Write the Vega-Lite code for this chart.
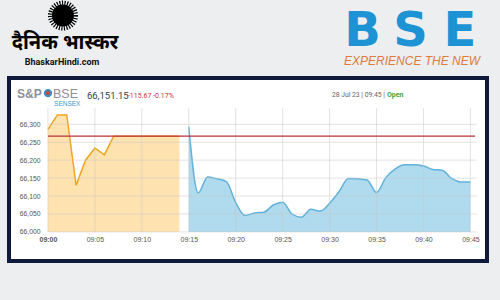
{
  "$schema": "https://vega.github.io/schema/vega-lite/v6.json",
  "autosize": {"type": "none"},
  "width": 478,
  "height": 183,
  "padding": {"left": 9, "top": 78, "right": 13, "bottom": 39},
  "background": "#eceef0",
  "config": {
    "view": {"fill": "#ffffff", "stroke": "#101a3d", "strokeWidth": 4},
    "font": "Liberation Sans",
    "axisY": {"labelOverlap": false, "labelSeparation": 0, "labelBound": false}
  },
  "datasets": {
    "prices": [
      {"time": "2023-07-28T09:00:00", "value": 66286, "phase": "pre"},
      {"time": "2023-07-28T09:01:00", "value": 66326, "phase": "pre"},
      {"time": "2023-07-28T09:02:00", "value": 66326, "phase": "pre"},
      {"time": "2023-07-28T09:03:00", "value": 66130, "phase": "pre"},
      {"time": "2023-07-28T09:04:00", "value": 66200, "phase": "pre"},
      {"time": "2023-07-28T09:05:00", "value": 66234, "phase": "pre"},
      {"time": "2023-07-28T09:06:00", "value": 66215, "phase": "pre"},
      {"time": "2023-07-28T09:07:00", "value": 66266.82, "phase": "pre"},
      {"time": "2023-07-28T09:08:00", "value": 66266.82, "phase": "pre"},
      {"time": "2023-07-28T09:09:00", "value": 66266.82, "phase": "pre"},
      {"time": "2023-07-28T09:10:00", "value": 66266.82, "phase": "pre"},
      {"time": "2023-07-28T09:11:00", "value": 66266.82, "phase": "pre"},
      {"time": "2023-07-28T09:12:00", "value": 66266.82, "phase": "pre"},
      {"time": "2023-07-28T09:13:00", "value": 66266.82, "phase": "pre"},
      {"time": "2023-07-28T09:14:00", "value": 66266.82, "phase": "pre"},
      {"time": "2023-07-28T09:15:00", "value": 66293, "phase": "sess"},
      {"time": "2023-07-28T09:16:00", "value": 66109, "phase": "sess"},
      {"time": "2023-07-28T09:17:00", "value": 66153, "phase": "sess"},
      {"time": "2023-07-28T09:18:00", "value": 66148, "phase": "sess"},
      {"time": "2023-07-28T09:19:00", "value": 66140, "phase": "sess"},
      {"time": "2023-07-28T09:20:00", "value": 66082, "phase": "sess"},
      {"time": "2023-07-28T09:21:00", "value": 66046, "phase": "sess"},
      {"time": "2023-07-28T09:22:00", "value": 66053, "phase": "sess"},
      {"time": "2023-07-28T09:23:00", "value": 66055, "phase": "sess"},
      {"time": "2023-07-28T09:24:00", "value": 66075, "phase": "sess"},
      {"time": "2023-07-28T09:25:00", "value": 66083, "phase": "sess"},
      {"time": "2023-07-28T09:26:00", "value": 66050, "phase": "sess"},
      {"time": "2023-07-28T09:27:00", "value": 66041, "phase": "sess"},
      {"time": "2023-07-28T09:28:00", "value": 66063, "phase": "sess"},
      {"time": "2023-07-28T09:29:00", "value": 66058, "phase": "sess"},
      {"time": "2023-07-28T09:30:00", "value": 66080, "phase": "sess"},
      {"time": "2023-07-28T09:31:00", "value": 66112, "phase": "sess"},
      {"time": "2023-07-28T09:32:00", "value": 66149, "phase": "sess"},
      {"time": "2023-07-28T09:33:00", "value": 66148, "phase": "sess"},
      {"time": "2023-07-28T09:34:00", "value": 66145, "phase": "sess"},
      {"time": "2023-07-28T09:35:00", "value": 66110, "phase": "sess"},
      {"time": "2023-07-28T09:36:00", "value": 66152, "phase": "sess"},
      {"time": "2023-07-28T09:37:00", "value": 66176, "phase": "sess"},
      {"time": "2023-07-28T09:38:00", "value": 66187, "phase": "sess"},
      {"time": "2023-07-28T09:39:00", "value": 66187, "phase": "sess"},
      {"time": "2023-07-28T09:40:00", "value": 66184, "phase": "sess"},
      {"time": "2023-07-28T09:41:00", "value": 66174, "phase": "sess"},
      {"time": "2023-07-28T09:42:00", "value": 66172, "phase": "sess"},
      {"time": "2023-07-28T09:43:00", "value": 66149, "phase": "sess"},
      {"time": "2023-07-28T09:44:00", "value": 66139, "phase": "sess"},
      {"time": "2023-07-28T09:45:00", "value": 66139, "phase": "sess"}
    ],
    "hgrid": [{"level": 66000}, {"level": 66050}, {"level": 66100}, {"level": 66150}, {"level": 66200}, {"level": 66250}, {"level": 66300}],
    "vgrid": [
      {"tick": "2023-07-28T09:00:00"}, {"tick": "2023-07-28T09:05:00"}, {"tick": "2023-07-28T09:10:00"},
      {"tick": "2023-07-28T09:15:00"}, {"tick": "2023-07-28T09:20:00"}, {"tick": "2023-07-28T09:25:00"},
      {"tick": "2023-07-28T09:30:00"}, {"tick": "2023-07-28T09:35:00"}, {"tick": "2023-07-28T09:40:00"},
      {"tick": "2023-07-28T09:45:00"}
    ],
    "close": [{"prevClose": 66266.82}],
    "one": [{}]
  },
  "layer": [
    {
      "data": {"name": "prices"},
      "transform": [{"filter": "datum.phase === 'pre'"}],
      "mark": {"type": "area", "color": "#fdd68f", "line": {"color": "#f2a41f", "strokeWidth": 1.5}},
      "encoding": {
        "x": {"field": "time", "type": "temporal", "title": null,
          "scale": {"domain": [{"year": 2023, "month": 7, "date": 28, "hours": 8, "minutes": 55, "seconds": 51}, {"year": 2023, "month": 7, "date": 28, "hours": 9, "minutes": 46, "seconds": 46}]},
          "axis": {"orient": "bottom", "offset": -29.1, "domain": false, "ticks": false, "grid": false, "labelPadding": 4, "labelFontSize": 7, "labelColor": "#555555",
            "labelFontWeight": {"condition": {"test": "hours(datum.value) === 9 && minutes(datum.value) === 0", "value": "bold"}, "value": "normal"},
            "format": "%H:%M", "labelOverlap": false, "labelFlush": false,
            "values": [
              {"year": 2023, "month": 7, "date": 28, "hours": 9, "minutes": 0},
              {"year": 2023, "month": 7, "date": 28, "hours": 9, "minutes": 5},
              {"year": 2023, "month": 7, "date": 28, "hours": 9, "minutes": 10},
              {"year": 2023, "month": 7, "date": 28, "hours": 9, "minutes": 15},
              {"year": 2023, "month": 7, "date": 28, "hours": 9, "minutes": 20},
              {"year": 2023, "month": 7, "date": 28, "hours": 9, "minutes": 25},
              {"year": 2023, "month": 7, "date": 28, "hours": 9, "minutes": 30},
              {"year": 2023, "month": 7, "date": 28, "hours": 9, "minutes": 35},
              {"year": 2023, "month": 7, "date": 28, "hours": 9, "minutes": 40},
              {"year": 2023, "month": 7, "date": 28, "hours": 9, "minutes": 45}
            ]}},
        "y": {"field": "value", "type": "quantitative", "title": null,
          "scale": {"domain": [65919, 66429], "nice": false, "zero": false},
          "axis": {"orient": "left", "offset": -39, "domain": false, "ticks": false, "grid": false, "labelPadding": 8, "labelFontSize": 6.8, "labelColor": "#555555",
            "format": ",.0f", "labelOverlap": false, "tickCount": 7,
            "values": [66000, 66050, 66100, 66150, 66200, 66250, 66300]}},
        "y2": {"datum": 66000}
      }
    },
    {
      "data": {"name": "prices"},
      "transform": [{"filter": "datum.phase === 'sess'"}],
      "mark": {"type": "area", "interpolate": "monotone", "color": "#8fcae5", "line": {"color": "#5fb2dc", "strokeWidth": 1.5}},
      "encoding": {
        "x": {"field": "time", "type": "temporal", "title": null,
          "scale": {"domain": [{"year": 2023, "month": 7, "date": 28, "hours": 8, "minutes": 55, "seconds": 51}, {"year": 2023, "month": 7, "date": 28, "hours": 9, "minutes": 46, "seconds": 46}]}},
        "y": {"field": "value", "type": "quantitative", "title": null,
          "scale": {"domain": [65919, 66429], "nice": false, "zero": false}},
        "y2": {"datum": 66000}
      }
    },
    {
      "data": {"name": "hgrid"},
      "mark": {"type": "rule", "color": "#c8c8c8", "strokeWidth": 1, "opacity": 0.5},
      "encoding": {
        "y": {"field": "level", "type": "quantitative", "title": null,
          "scale": {"domain": [65919, 66429], "nice": false, "zero": false},
          "axis": {"orient": "left", "offset": -39, "domain": false, "ticks": false, "grid": false, "labelPadding": 8, "labelFontSize": 6.8, "labelColor": "#555555",
            "format": ",.0f", "labelOverlap": false, "tickCount": 7,
            "values": [66000, 66050, 66100, 66150, 66200, 66250, 66300]}},
        "x": {"datum": {"year": 2023, "month": 7, "date": 28, "hours": 9, "minutes": 0}, "type": "temporal",
          "scale": {"domain": [{"year": 2023, "month": 7, "date": 28, "hours": 8, "minutes": 55, "seconds": 51}, {"year": 2023, "month": 7, "date": 28, "hours": 9, "minutes": 46, "seconds": 46}]}},
        "x2": {"datum": {"year": 2023, "month": 7, "date": 28, "hours": 9, "minutes": 45, "seconds": 40}}
      }
    },
    {
      "data": {"name": "vgrid"},
      "mark": {"type": "rule", "color": "#c8c8c8", "strokeWidth": 1, "opacity": 0.5},
      "encoding": {
        "x": {"field": "tick", "type": "temporal", "title": null,
          "scale": {"domain": [{"year": 2023, "month": 7, "date": 28, "hours": 8, "minutes": 55, "seconds": 51}, {"year": 2023, "month": 7, "date": 28, "hours": 9, "minutes": 46, "seconds": 46}]}},
        "y": {"datum": 66000, "type": "quantitative",
          "scale": {"domain": [65919, 66429], "nice": false, "zero": false}},
        "y2": {"datum": 66345}
      }
    },
    {
      "data": {"name": "close"},
      "mark": {"type": "rule", "color": "#b8333a", "strokeWidth": 1.2},
      "encoding": {
        "y": {"field": "prevClose", "type": "quantitative", "title": null,
          "scale": {"domain": [65919, 66429], "nice": false, "zero": false}},
        "x": {"datum": {"year": 2023, "month": 7, "date": 28, "hours": 9, "minutes": 0}, "type": "temporal",
          "scale": {"domain": [{"year": 2023, "month": 7, "date": 28, "hours": 8, "minutes": 55, "seconds": 51}, {"year": 2023, "month": 7, "date": 28, "hours": 9, "minutes": 46, "seconds": 46}]}},
        "x2": {"datum": {"year": 2023, "month": 7, "date": 28, "hours": 9, "minutes": 45, "seconds": 30}}
      }
    },
    {
      "data": {"name": "one"},
      "mark": {"type": "point", "shape": "circle", "filled": true, "fill": "#000000", "stroke": "#000000", "strokeWidth": 8, "strokeDash": [1, 1.2], "size": 484, "opacity": 1},
      "encoding": {
        "x": {"datum": {"year": 2023, "month": 7, "date": 28, "hours": 9, "minutes": 1, "seconds": 36}, "type": "temporal",
          "scale": {"domain": [{"year": 2023, "month": 7, "date": 28, "hours": 8, "minutes": 55, "seconds": 51}, {"year": 2023, "month": 7, "date": 28, "hours": 9, "minutes": 46, "seconds": 46}]}},
        "y": {"datum": 66603, "type": "quantitative", "scale": {"domain": [65919, 66429], "nice": false, "zero": false}}
      }
    },
    {
      "data": {"name": "one"},
      "mark": {"type": "text", "text": "दैनिक भास्कर", "font": "Noto Sans", "fontSize": 20, "fontWeight": "bold", "color": "#000000", "align": "center", "baseline": "middle"},
      "encoding": {
        "x": {"datum": {"year": 2023, "month": 7, "date": 28, "hours": 9, "minutes": 1, "seconds": 49}, "type": "temporal",
          "scale": {"domain": [{"year": 2023, "month": 7, "date": 28, "hours": 8, "minutes": 55, "seconds": 51}, {"year": 2023, "month": 7, "date": 28, "hours": 9, "minutes": 46, "seconds": 46}]}},
        "y": {"datum": 66526, "type": "quantitative", "scale": {"domain": [65919, 66429], "nice": false, "zero": false}}
      }
    },
    {
      "data": {"name": "one"},
      "mark": {"type": "text", "text": "BhaskarHindi.com", "font": "Roboto", "fontSize": 9, "fontWeight": "bold", "color": "#111111", "align": "center", "baseline": "alphabetic"},
      "encoding": {
        "x": {"datum": {"year": 2023, "month": 7, "date": 28, "hours": 9, "minutes": 1, "seconds": 30}, "type": "temporal",
          "scale": {"domain": [{"year": 2023, "month": 7, "date": 28, "hours": 8, "minutes": 55, "seconds": 51}, {"year": 2023, "month": 7, "date": 28, "hours": 9, "minutes": 46, "seconds": 46}]}},
        "y": {"datum": 66465, "type": "quantitative", "scale": {"domain": [65919, 66429], "nice": false, "zero": false}}
      }
    },
    {
      "data": {"name": "one"},
      "mark": {"type": "text", "text": "B", "font": "DejaVu Sans", "fontSize": 48, "fontWeight": "bold", "color": "#1d93d4", "align": "center", "baseline": "alphabetic"},
      "encoding": {
        "x": {"datum": {"year": 2023, "month": 7, "date": 28, "hours": 9, "minutes": 33, "seconds": 30}, "type": "temporal",
          "scale": {"domain": [{"year": 2023, "month": 7, "date": 28, "hours": 8, "minutes": 55, "seconds": 51}, {"year": 2023, "month": 7, "date": 28, "hours": 9, "minutes": 46, "seconds": 46}]}},
        "y": {"datum": 66518, "type": "quantitative", "scale": {"domain": [65919, 66429], "nice": false, "zero": false}}
      }
    },
    {
      "data": {"name": "one"},
      "mark": {"type": "text", "text": "S", "font": "DejaVu Sans", "fontSize": 48, "fontWeight": "bold", "color": "#1d93d4", "align": "center", "baseline": "alphabetic"},
      "encoding": {
        "x": {"datum": {"year": 2023, "month": 7, "date": 28, "hours": 9, "minutes": 38, "seconds": 37}, "type": "temporal",
          "scale": {"domain": [{"year": 2023, "month": 7, "date": 28, "hours": 8, "minutes": 55, "seconds": 51}, {"year": 2023, "month": 7, "date": 28, "hours": 9, "minutes": 46, "seconds": 46}]}},
        "y": {"datum": 66518, "type": "quantitative", "scale": {"domain": [65919, 66429], "nice": false, "zero": false}}
      }
    },
    {
      "data": {"name": "one"},
      "mark": {"type": "text", "text": "E", "font": "DejaVu Sans", "fontSize": 48, "fontWeight": "bold", "color": "#1d93d4", "align": "center", "baseline": "alphabetic"},
      "encoding": {
        "x": {"datum": {"year": 2023, "month": 7, "date": 28, "hours": 9, "minutes": 43, "seconds": 53}, "type": "temporal",
          "scale": {"domain": [{"year": 2023, "month": 7, "date": 28, "hours": 8, "minutes": 55, "seconds": 51}, {"year": 2023, "month": 7, "date": 28, "hours": 9, "minutes": 46, "seconds": 46}]}},
        "y": {"datum": 66518, "type": "quantitative", "scale": {"domain": [65919, 66429], "nice": false, "zero": false}}
      }
    },
    {
      "data": {"name": "one"},
      "mark": {"type": "text", "text": "EXPERIENCE THE NEW", "font": "Liberation Sans", "fontSize": 12, "fontStyle": "italic", "color": "#e07a3a", "align": "center", "baseline": "alphabetic"},
      "encoding": {
        "x": {"datum": {"year": 2023, "month": 7, "date": 28, "hours": 9, "minutes": 38, "seconds": 47}, "type": "temporal",
          "scale": {"domain": [{"year": 2023, "month": 7, "date": 28, "hours": 8, "minutes": 55, "seconds": 51}, {"year": 2023, "month": 7, "date": 28, "hours": 9, "minutes": 46, "seconds": 46}]}},
        "y": {"datum": 66465, "type": "quantitative", "scale": {"domain": [65919, 66429], "nice": false, "zero": false}}
      }
    },
    {
      "data": {"name": "one"},
      "mark": {"type": "text", "text": "S&P", "font": "Liberation Sans", "fontSize": 12, "fontWeight": "bold", "color": "#8a9099", "align": "left", "baseline": "alphabetic"},
      "encoding": {
        "x": {"datum": {"year": 2023, "month": 7, "date": 28, "hours": 8, "minutes": 56, "seconds": 42}, "type": "temporal",
          "scale": {"domain": [{"year": 2023, "month": 7, "date": 28, "hours": 8, "minutes": 55, "seconds": 51}, {"year": 2023, "month": 7, "date": 28, "hours": 9, "minutes": 46, "seconds": 46}]}},
        "y": {"datum": 66374.6, "type": "quantitative", "scale": {"domain": [65919, 66429], "nice": false, "zero": false}}
      }
    },
    {
      "data": {"name": "one"},
      "mark": {"type": "point", "shape": "circle", "filled": true, "fill": "#d2453d", "stroke": "#3b8fc8", "strokeWidth": 2, "size": 40, "opacity": 1},
      "encoding": {
        "x": {"datum": {"year": 2023, "month": 7, "date": 28, "hours": 9, "minutes": 0, "seconds": 0}, "type": "temporal",
          "scale": {"domain": [{"year": 2023, "month": 7, "date": 28, "hours": 8, "minutes": 55, "seconds": 51}, {"year": 2023, "month": 7, "date": 28, "hours": 9, "minutes": 46, "seconds": 46}]}},
        "y": {"datum": 66387, "type": "quantitative", "scale": {"domain": [65919, 66429], "nice": false, "zero": false}}
      }
    },
    {
      "data": {"name": "one"},
      "mark": {"type": "text", "text": "BSE", "font": "Liberation Sans", "fontSize": 12.5, "color": "#8a9099", "align": "left", "baseline": "alphabetic"},
      "encoding": {
        "x": {"datum": {"year": 2023, "month": 7, "date": 28, "hours": 9, "minutes": 0, "seconds": 32}, "type": "temporal",
          "scale": {"domain": [{"year": 2023, "month": 7, "date": 28, "hours": 8, "minutes": 55, "seconds": 51}, {"year": 2023, "month": 7, "date": 28, "hours": 9, "minutes": 46, "seconds": 46}]}},
        "y": {"datum": 66374.6, "type": "quantitative", "scale": {"domain": [65919, 66429], "nice": false, "zero": false}}
      }
    },
    {
      "data": {"name": "one"},
      "mark": {"type": "text", "text": "SENSEX", "font": "Liberation Sans", "fontSize": 6.5, "color": "#3b9bd0", "align": "left", "baseline": "alphabetic"},
      "encoding": {
        "x": {"datum": {"year": 2023, "month": 7, "date": 28, "hours": 9, "minutes": 0, "seconds": 39}, "type": "temporal",
          "scale": {"domain": [{"year": 2023, "month": 7, "date": 28, "hours": 8, "minutes": 55, "seconds": 51}, {"year": 2023, "month": 7, "date": 28, "hours": 9, "minutes": 46, "seconds": 46}]}},
        "y": {"datum": 66351, "type": "quantitative", "scale": {"domain": [65919, 66429], "nice": false, "zero": false}}
      }
    },
    {
      "data": {"name": "one"},
      "mark": {"type": "text", "text": "66,151.15", "font": "Roboto", "fontSize": 9.5, "color": "#2c3e50", "align": "left", "baseline": "alphabetic"},
      "encoding": {
        "x": {"datum": {"year": 2023, "month": 7, "date": 28, "hours": 9, "minutes": 4, "seconds": 9}, "type": "temporal",
          "scale": {"domain": [{"year": 2023, "month": 7, "date": 28, "hours": 8, "minutes": 55, "seconds": 51}, {"year": 2023, "month": 7, "date": 28, "hours": 9, "minutes": 46, "seconds": 46}]}},
        "y": {"datum": 66370.4, "type": "quantitative", "scale": {"domain": [65919, 66429], "nice": false, "zero": false}}
      }
    },
    {
      "data": {"name": "one"},
      "mark": {"type": "text", "text": "-115.67 -0.17%", "font": "Roboto", "fontSize": 7, "color": "#d6303a", "align": "left", "baseline": "alphabetic"},
      "encoding": {
        "x": {"datum": {"year": 2023, "month": 7, "date": 28, "hours": 9, "minutes": 8, "seconds": 31}, "type": "temporal",
          "scale": {"domain": [{"year": 2023, "month": 7, "date": 28, "hours": 8, "minutes": 55, "seconds": 51}, {"year": 2023, "month": 7, "date": 28, "hours": 9, "minutes": 46, "seconds": 46}]}},
        "y": {"datum": 66373.2, "type": "quantitative", "scale": {"domain": [65919, 66429], "nice": false, "zero": false}}
      }
    },
    {
      "data": {"name": "one"},
      "mark": {"type": "text", "text": "28 Jul 23 | 09:45 |", "font": "Roboto", "fontSize": 6.8, "color": "#666666", "align": "right", "baseline": "alphabetic"},
      "encoding": {
        "x": {"datum": {"year": 2023, "month": 7, "date": 28, "hours": 9, "minutes": 35, "seconds": 54}, "type": "temporal",
          "scale": {"domain": [{"year": 2023, "month": 7, "date": 28, "hours": 8, "minutes": 55, "seconds": 51}, {"year": 2023, "month": 7, "date": 28, "hours": 9, "minutes": 46, "seconds": 46}]}},
        "y": {"datum": 66376, "type": "quantitative", "scale": {"domain": [65919, 66429], "nice": false, "zero": false}}
      }
    },
    {
      "data": {"name": "one"},
      "mark": {"type": "text", "text": "Open", "font": "Roboto", "fontSize": 7, "fontWeight": "bold", "color": "#3aa63a", "align": "left", "baseline": "alphabetic"},
      "encoding": {
        "x": {"datum": {"year": 2023, "month": 7, "date": 28, "hours": 9, "minutes": 36, "seconds": 7}, "type": "temporal",
          "scale": {"domain": [{"year": 2023, "month": 7, "date": 28, "hours": 8, "minutes": 55, "seconds": 51}, {"year": 2023, "month": 7, "date": 28, "hours": 9, "minutes": 46, "seconds": 46}]}},
        "y": {"datum": 66376, "type": "quantitative", "scale": {"domain": [65919, 66429], "nice": false, "zero": false}}
      }
    }
  ]
}
